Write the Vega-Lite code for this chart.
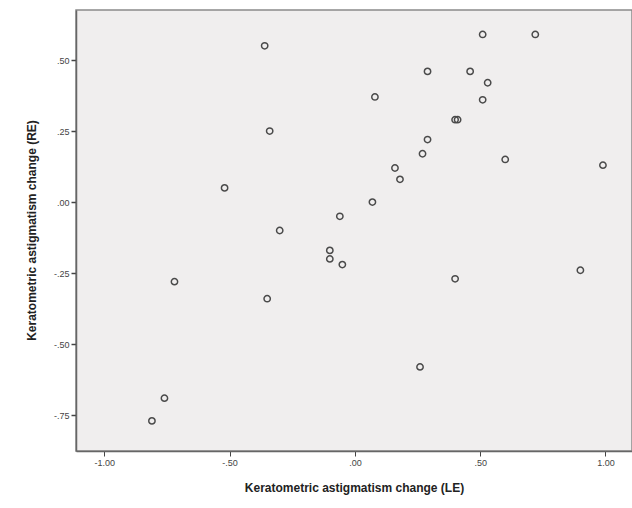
{
  "$schema": "https://vega.github.io/schema/vega-lite/v6.json",
  "width": 556,
  "height": 441,
  "autosize": {"type": "none"},
  "padding": {"left": 76, "top": 10, "right": 0, "bottom": 57},
  "background": "#ffffff",
  "config": {
    "view": {"fill": "#F0EEEE", "stroke": "#8a8a8a", "strokeWidth": 1.5},
    "font": "Liberation Sans"
  },
  "data": {
    "values": [
      {"le": -0.36, "re": 0.55},
      {"le": 0.51, "re": 0.59},
      {"le": 0.72, "re": 0.59},
      {"le": 0.29, "re": 0.46},
      {"le": 0.46, "re": 0.46},
      {"le": 0.53, "re": 0.42},
      {"le": 0.51, "re": 0.36},
      {"le": 0.08, "re": 0.37},
      {"le": 0.40, "re": 0.29},
      {"le": 0.41, "re": 0.29},
      {"le": -0.34, "re": 0.25},
      {"le": 0.29, "re": 0.22},
      {"le": 0.27, "re": 0.17},
      {"le": 0.60, "re": 0.15},
      {"le": 0.99, "re": 0.13},
      {"le": 0.16, "re": 0.12},
      {"le": 0.18, "re": 0.08},
      {"le": -0.52, "re": 0.05},
      {"le": 0.07, "re": 0.00},
      {"le": -0.06, "re": -0.05},
      {"le": -0.30, "re": -0.10},
      {"le": -0.10, "re": -0.17},
      {"le": -0.10, "re": -0.20},
      {"le": -0.05, "re": -0.22},
      {"le": 0.90, "re": -0.24},
      {"le": 0.40, "re": -0.27},
      {"le": -0.72, "re": -0.28},
      {"le": -0.35, "re": -0.34},
      {"le": 0.26, "re": -0.58},
      {"le": -0.76, "re": -0.69},
      {"le": -0.81, "re": -0.77}
    ]
  },
  "mark": {"type": "point", "shape": "circle", "filled": false, "stroke": "#4a4a4a", "strokeWidth": 1.5, "size": 40, "opacity": 1},
  "encoding": {
    "x": {
      "field": "le", "type": "quantitative",
      "scale": {"domain": [-1.113, 1.106], "nice": false, "zero": false},
      "axis": {
        "title": "Keratometric astigmatism change (LE)",
        "values": [-1, -0.5, 0, 0.5, 1],
        "labelExpr": "(datum.value < 0 ? '-' : '') + replace(format(abs(datum.value), '.2f'), regexp('^0'), '')",
        "grid": false,
        "domainColor": "#666666", "domainWidth": 1.5,
        "tickColor": "#444444", "tickSize": 5, "tickWidth": 1,
        "labelFont": "Liberation Sans", "labelFontSize": 9, "labelColor": "#444444", "labelPadding": 2,
        "titleFont": "Liberation Sans", "titleFontSize": 12, "titleFontWeight": "bold", "titleColor": "#222222",
        "titlePadding": 15
      }
    },
    "y": {
      "field": "re", "type": "quantitative",
      "scale": {"domain": [-0.876, 0.676], "nice": false, "zero": false},
      "axis": {
        "title": "Keratometric astigmatism change (RE)",
        "values": [-0.75, -0.5, -0.25, 0, 0.25, 0.5],
        "labelExpr": "(datum.value < 0 ? '-' : '') + replace(format(abs(datum.value), '.2f'), regexp('^0'), '')",
        "grid": false,
        "domainColor": "#666666", "domainWidth": 1.5,
        "tickColor": "#444444", "tickSize": 5, "tickWidth": 1.5,
        "labelFont": "Liberation Sans", "labelFontSize": 9, "labelColor": "#444444", "labelPadding": 2,
        "titleFont": "Liberation Sans", "titleFontSize": 12, "titleFontWeight": "bold", "titleColor": "#222222",
        "titleX": -38, "titleY": 220, "titleAlign": "center", "titleBaseline": "bottom"
      }
    }
  }
}
